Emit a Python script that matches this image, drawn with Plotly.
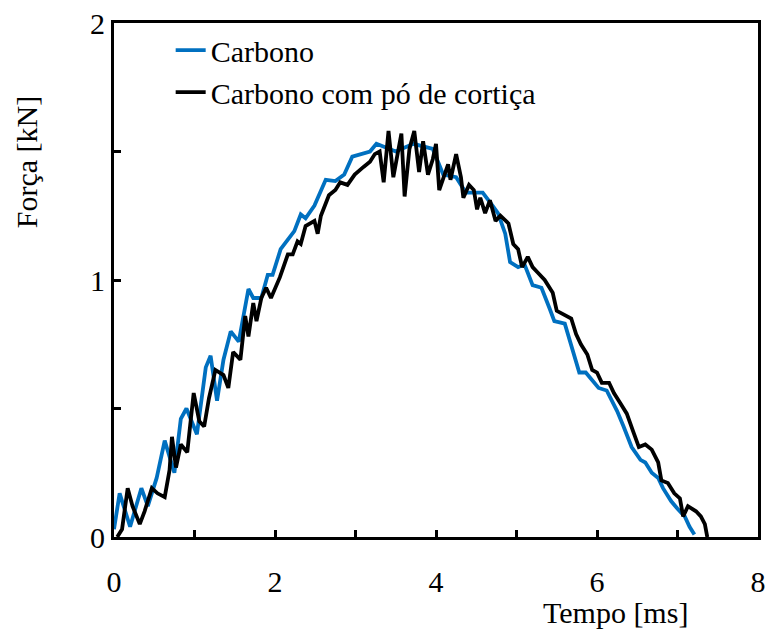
import plotly.graph_objects as go

# Carbono (blue)
t_carbono = [0.0, 0.07, 0.2, 0.34, 0.42, 0.53, 0.63, 0.75, 0.83, 0.9, 1.03, 1.14, 1.2, 1.28, 1.36, 1.45,
             1.55, 1.67, 1.73, 1.83, 1.91, 1.97, 2.07, 2.16, 2.24, 2.32, 2.38, 2.49, 2.63, 2.75, 2.86,
             2.96, 3.06, 3.18, 3.26, 3.5, 3.72, 3.96, 4.09, 4.25, 4.37, 4.58, 4.7, 4.77, 4.86, 4.92,
             5.02, 5.1, 5.2, 5.31, 5.41, 5.47, 5.6, 5.72, 5.78, 5.86, 5.94, 6.02, 6.12, 6.25, 6.33,
             6.43, 6.54, 6.6, 6.68, 6.76, 6.82, 6.92, 7.0, 7.09, 7.15, 7.21]
f_carbono = [0.03, 0.17, 0.04, 0.19, 0.12, 0.23, 0.375, 0.25, 0.46, 0.5, 0.40, 0.66, 0.705, 0.53, 0.69, 0.80,
             0.76, 0.965, 0.93, 0.93, 1.02, 1.02, 1.12, 1.16, 1.19, 1.255, 1.24, 1.29, 1.39, 1.385, 1.41,
             1.48, 1.49, 1.50, 1.53, 1.50, 1.53, 1.51, 1.41, 1.40, 1.34, 1.34, 1.29, 1.26, 1.18, 1.07,
             1.05, 1.06, 0.98, 0.97, 0.89, 0.84, 0.83, 0.70, 0.64, 0.64, 0.61, 0.58, 0.57, 0.49, 0.43,
             0.35, 0.30, 0.29, 0.25, 0.23, 0.19, 0.14, 0.11, 0.08, 0.04, 0.01]

# Carbono com pó de cortiça (black)
t_cortica = [0.04, 0.1, 0.17, 0.23, 0.32, 0.38, 0.47, 0.54, 0.63, 0.69, 0.72, 0.77, 0.83, 0.91, 0.99, 1.06,
             1.12, 1.18, 1.26, 1.36, 1.42, 1.48, 1.57, 1.63, 1.67, 1.73, 1.77, 1.83, 1.89, 1.95, 2.06,
             2.16, 2.22, 2.28, 2.32, 2.38, 2.49, 2.53, 2.57, 2.67, 2.75, 2.81, 2.9, 2.99, 3.1, 3.18,
             3.24, 3.3, 3.35, 3.41, 3.47, 3.53, 3.57, 3.61, 3.67, 3.73, 3.79, 3.84, 3.9, 3.96, 4.0,
             4.04, 4.1, 4.15, 4.18, 4.25, 4.31, 4.34, 4.41, 4.47, 4.51, 4.55, 4.61, 4.67, 4.74, 4.8,
             4.9, 4.96, 5.02, 5.07, 5.14, 5.2, 5.26, 5.35, 5.45, 5.5, 5.56, 5.68, 5.74, 5.8, 5.88,
             5.94, 6.0, 6.06, 6.15, 6.21, 6.29, 6.37, 6.45, 6.52, 6.6, 6.68, 6.76, 6.8, 6.88, 6.96,
             7.03, 7.07, 7.13, 7.18, 7.23, 7.29, 7.34, 7.37]
f_cortica = [0.0, 0.03, 0.19, 0.12, 0.05, 0.10, 0.19, 0.17, 0.155, 0.26, 0.39, 0.27, 0.36, 0.33, 0.56, 0.45,
             0.43, 0.54, 0.65, 0.63, 0.58, 0.72, 0.69, 0.86, 0.78, 0.91, 0.84, 0.93, 0.97, 0.93, 1.01,
             1.10, 1.10, 1.15, 1.14, 1.21, 1.23, 1.18, 1.25, 1.33, 1.35, 1.38, 1.37, 1.41, 1.44, 1.46,
             1.49, 1.50, 1.38, 1.58, 1.40, 1.51, 1.57, 1.325, 1.51, 1.58, 1.42, 1.54, 1.41, 1.47, 1.53,
             1.35, 1.40, 1.45, 1.39, 1.49, 1.40, 1.32, 1.37, 1.35, 1.275, 1.32, 1.26, 1.31, 1.23, 1.25,
             1.22, 1.14, 1.12, 1.05, 1.09, 1.05, 1.03, 1.00, 0.95, 0.88, 0.87, 0.85, 0.79, 0.75, 0.71,
             0.65, 0.64, 0.60, 0.60, 0.56, 0.52, 0.48, 0.41, 0.35, 0.36, 0.34, 0.29, 0.22, 0.21, 0.17,
             0.15, 0.08, 0.12, 0.11, 0.10, 0.08, 0.05, 0.0]

x_tickvals = [0, 1, 2, 3, 4, 5, 6, 7, 8]
x_ticktext = ["0", "", "2", "", "4", "", "6", "", "8"]
y_tickvals = [0, 0.5, 1, 1.5, 2]
y_ticktext = ["0", "", "1", "", "2"]

FONT = "Liberation Serif"

fig = go.Figure()
fig.add_trace(go.Scatter(x=t_carbono, y=f_carbono, mode="lines", name="Carbono",
                         line=dict(color="#0070C0", width=3.8)))
fig.add_trace(go.Scatter(x=t_cortica, y=f_cortica, mode="lines", name="Carbono com pó de cortiça",
                         line=dict(color="#000000", width=3.8)))

axis_common = dict(showline=True, linecolor="black", linewidth=3, mirror=True,
                   ticks="inside", ticklen=7, tickwidth=2.5, tickcolor="black",
                   showgrid=False, zeroline=False,
                   tickfont=dict(family=FONT, size=30, color="black"))

fig.update_xaxes(range=[0, 8], tickvals=x_tickvals, ticktext=x_ticktext,
                 ticklabelstandoff=16, **axis_common)
fig.update_yaxes(range=[0, 2], tickvals=y_tickvals, ticktext=y_ticktext,
                 ticklabelstandoff=0, **axis_common)

fig.add_annotation(text="Tempo [ms]", xref="paper", yref="paper", x=0.778, y=-0.146,
                   showarrow=False, xanchor="center", yanchor="middle",
                   font=dict(family=FONT, size=30, color="black"))
fig.add_annotation(text="Força [kN]", xref="paper", yref="paper", x=-0.136, y=0.73,
                   showarrow=False, xanchor="center", yanchor="middle", textangle=-90,
                   font=dict(family=FONT, size=30, color="black"))

fig.update_layout(
    width=772, height=636,
    margin=dict(l=114, r=6, t=21, b=99),
    paper_bgcolor="white", plot_bgcolor="white",
    font=dict(family=FONT, size=30, color="black"),
    legend=dict(x=0.088, y=0.998, xanchor="left", yanchor="top",
                bgcolor="rgba(0,0,0,0)", tracegroupgap=0,
                font=dict(family=FONT, size=30, color="black")),
    showlegend=True,
)

fig.write_html("out.html")
